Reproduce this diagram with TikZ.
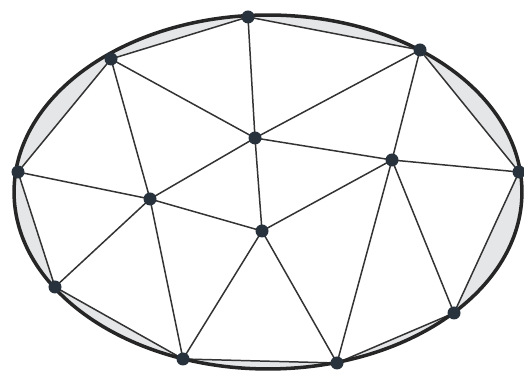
\documentclass[tikz,border=0pt]{standalone}
\usepackage{tikz}

\definecolor{dotgray}{HTML}{28323C}
\definecolor{gapgray}{HTML}{E4E6E8}

\begin{document}
\begin{tikzpicture}[x=0.02cm, y=-0.02cm]
\tikzset{edge/.style={draw=black!80, line width=0.85pt},
         rim/.style={draw=black!85, line width=2pt},
         vertex/.style={fill=dotgray}}
\useasboundingbox (0,0) rectangle (524,374);
% points of the mesh
\coordinate (A) at (248,17);
\coordinate (B) at (420,50);
\coordinate (C) at (111,59);
\coordinate (D) at (255,138);
\coordinate (E) at (392,160);
\coordinate (F) at (519,172);
\coordinate (G) at (18,172);
\coordinate (H) at (150,199);
\coordinate (I) at (262,231);
\coordinate (J) at (55,287);
\coordinate (K) at (454,313);
\coordinate (L) at (183,359);
\coordinate (M) at (337,363);
% grey gaps between the ellipse and the polygon
\fill[gapgray] (268,192) ellipse [x radius=5.08cm, y radius=3.54cm];
\fill[white] (A) -- (B) -- (F) -- (K) -- (M) -- (L) -- (J) -- (G) -- (C) -- cycle;
% boundary
\draw[edge] (A) -- (B) -- (F) -- (K) -- (M) -- (L) -- (J) -- (G) -- (C) -- cycle;
% inner edges
\draw[edge] (C) -- (D);
\draw[edge] (A) -- (D);
\draw[edge] (B) -- (D);
\draw[edge] (B) -- (E);
\draw[edge] (D) -- (E);
\draw[edge] (E) -- (F);
\draw[edge] (C) -- (H);
\draw[edge] (G) -- (H);
\draw[edge] (D) -- (H);
\draw[edge] (D) -- (I);
\draw[edge] (H) -- (I);
\draw[edge] (I) -- (E);
\draw[edge] (H) -- (J);
\draw[edge] (H) -- (L);
\draw[edge] (I) -- (L);
\draw[edge] (I) -- (M);
\draw[edge] (E) -- (M);
\draw[edge] (E) -- (K);
\draw[rim] (268,192) ellipse [x radius=5.08cm, y radius=3.54cm];
\foreach \p in {A,B,C,D,E,F,G,H,I,J,K,L,M}
  \fill[vertex] (\p) circle (3.7pt);
\end{tikzpicture}
\end{document}
